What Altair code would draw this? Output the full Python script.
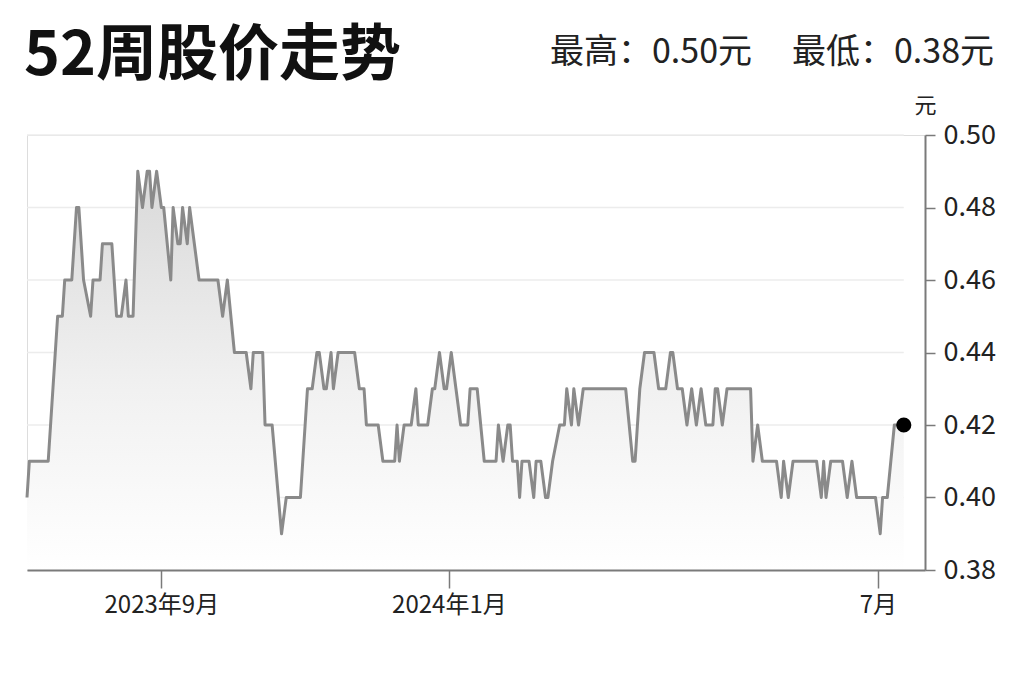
import altair as alt
import pandas as pd

# ---- data ----
dates = [
    "2023-07-06", "2023-07-07", "2023-07-15", "2023-07-19", "2023-07-21", "2023-07-22",
    "2023-07-25", "2023-07-27", "2023-07-28", "2023-07-30", "2023-08-02", "2023-08-03",
    "2023-08-06", "2023-08-07", "2023-08-11", "2023-08-13", "2023-08-15", "2023-08-17",
    "2023-08-18", "2023-08-20", "2023-08-22", "2023-08-24", "2023-08-26", "2023-08-27",
    "2023-08-28", "2023-08-30", "2023-09-01", "2023-09-02", "2023-09-05", "2023-09-06",
    "2023-09-08", "2023-09-09", "2023-09-10", "2023-09-12", "2023-09-13", "2023-09-17",
    "2023-09-25", "2023-09-27", "2023-09-29", "2023-10-02", "2023-10-07", "2023-10-09",
    "2023-10-10", "2023-10-14", "2023-10-15", "2023-10-18", "2023-10-22", "2023-10-24",
    "2023-10-30", "2023-11-02", "2023-11-04", "2023-11-06", "2023-11-07", "2023-11-09",
    "2023-11-10", "2023-11-12", "2023-11-13", "2023-11-15", "2023-11-22", "2023-11-24",
    "2023-11-26", "2023-11-27", "2023-12-02", "2023-12-04", "2023-12-09", "2023-12-10",
    "2023-12-11", "2023-12-13", "2023-12-16", "2023-12-18", "2023-12-19", "2023-12-23",
    "2023-12-25", "2023-12-26", "2023-12-28", "2023-12-30", "2023-12-31", "2024-01-02",
    "2024-01-04", "2024-01-06", "2024-01-09", "2024-01-10", "2024-01-13", "2024-01-16",
    "2024-01-21", "2024-01-22", "2024-01-24", "2024-01-26", "2024-01-27", "2024-01-28",
    "2024-01-30", "2024-01-31", "2024-02-01", "2024-02-04", "2024-02-06", "2024-02-07",
    "2024-02-09", "2024-02-11", "2024-02-12", "2024-02-14", "2024-02-17", "2024-02-19",
    "2024-02-20", "2024-02-22", "2024-02-23", "2024-02-25", "2024-02-27", "2024-03-16",
    "2024-03-19", "2024-03-20", "2024-03-22", "2024-03-24", "2024-03-28", "2024-03-30",
    "2024-04-02", "2024-04-04", "2024-04-05", "2024-04-07", "2024-04-09", "2024-04-11",
    "2024-04-13", "2024-04-15", "2024-04-17", "2024-04-19", "2024-04-22", "2024-04-23",
    "2024-04-24", "2024-04-26", "2024-04-28", "2024-05-08", "2024-05-09", "2024-05-11",
    "2024-05-13", "2024-05-19", "2024-05-21", "2024-05-22", "2024-05-24", "2024-05-26",
    "2024-06-05", "2024-06-07", "2024-06-08", "2024-06-09", "2024-06-11", "2024-06-16",
    "2024-06-18", "2024-06-20", "2024-06-22", "2024-06-30", "2024-07-02", "2024-07-03",
    "2024-07-05", "2024-07-08", "2024-07-12",
]
prices = [
    0.40, 0.41, 0.41, 0.45, 0.45, 0.46,
    0.46, 0.48, 0.48, 0.46, 0.45, 0.46,
    0.46, 0.47, 0.47, 0.45, 0.45, 0.46,
    0.45, 0.45, 0.49, 0.48, 0.49, 0.49,
    0.48, 0.49, 0.48, 0.48, 0.46, 0.48,
    0.47, 0.47, 0.48, 0.47, 0.48, 0.46,
    0.46, 0.45, 0.46, 0.44, 0.44, 0.43,
    0.44, 0.44, 0.42, 0.42, 0.39, 0.40,
    0.40, 0.43, 0.43, 0.44, 0.44, 0.43,
    0.43, 0.44, 0.43, 0.44, 0.44, 0.43,
    0.43, 0.42, 0.42, 0.41, 0.41, 0.42,
    0.41, 0.42, 0.42, 0.43, 0.42, 0.42,
    0.43, 0.43, 0.44, 0.43, 0.43, 0.44,
    0.43, 0.42, 0.42, 0.43, 0.43, 0.41,
    0.41, 0.42, 0.41, 0.42, 0.42, 0.41,
    0.41, 0.40, 0.41, 0.41, 0.40, 0.41,
    0.41, 0.40, 0.40, 0.41, 0.42, 0.42,
    0.43, 0.42, 0.43, 0.42, 0.43, 0.43,
    0.41, 0.41, 0.43, 0.44, 0.44, 0.43,
    0.43, 0.44, 0.44, 0.43, 0.43, 0.42,
    0.43, 0.42, 0.43, 0.42, 0.42, 0.43,
    0.43, 0.42, 0.43, 0.43, 0.41, 0.42,
    0.41, 0.41, 0.40, 0.41, 0.40, 0.41,
    0.41, 0.40, 0.41, 0.40, 0.41, 0.41,
    0.40, 0.41, 0.40, 0.40, 0.39, 0.40,
    0.40, 0.42, 0.42,
]
x_tick_dates = ["2023-09-01", "2024-01-01", "2024-07-01"]
x_tick_labels = ["2023年9月", "2024年1月", "7月"]
y_ticks = [0.38, 0.40, 0.42, 0.44, 0.46, 0.48, 0.50]
x_domain = ["2023-07-06", "2024-07-21"]
grid_end = "2024-07-12"
title_text = "52周股价走势"
high_text = "最高：0.50元"
low_text = "最低：0.38元"
unit_text = "元"

FONT = "Noto Sans CJK SC"


def dt(s):
    t = pd.Timestamp(s)
    return alt.DateTime(year=t.year, month=t.month, date=t.day, utc=True)


def ms(s):
    return int(pd.Timestamp(s, tz="UTC").timestamp() * 1000)


label_expr = "''"
for d, lab in reversed(list(zip(x_tick_dates, x_tick_labels))):
    label_expr = f"time(datum.value) == {ms(d)} ? '{lab}' : ({label_expr})"

df = pd.DataFrame({"date": dates, "price": prices})
df["base"] = y_ticks[0]
last = df.iloc[[-1]]
grid_df = pd.DataFrame({"v": y_ticks[1:], "x0": x_domain[0], "x1": grid_end})

x_scale = alt.Scale(type="utc", domain=[dt(x_domain[0]), dt(x_domain[1])])
y_scale = alt.Scale(domain=[y_ticks[0], y_ticks[-1]], zero=False, nice=False)

x_axis = alt.Axis(
    values=[dt(d) for d in x_tick_dates], labelExpr=label_expr, title=None,
    grid=False, domainColor="#7a7a7a", domainWidth=2, tickColor="#7a7a7a",
    tickWidth=1.5, tickSize=18, labelPadding=5, labelFontSize=24,
    labelColor="#222", labelFont=FONT, zindex=2,
)
y_axis = alt.Axis(
    orient="right", values=y_ticks, format=".2f", title=unit_text, titleAngle=0,
    titleX=0, titleY=-23, titleAlign="center", titleBaseline="alphabetic",
    titleFontSize=22, titleFontWeight="normal", titleColor="#222", titleFont=FONT,
    grid=False, domainColor="#7a7a7a", domainWidth=2, tickColor="#7a7a7a",
    tickWidth=1.5, tickSize=10, labelPadding=8, labelFontSize=27,
    labelColor="#222", labelFont=FONT, zindex=2,
)

grid = alt.Chart(grid_df).mark_rule(color="#ececec", strokeWidth=1.5).encode(
    x=alt.X("x0:T", scale=x_scale, axis=x_axis),
    x2="x1:T",
    y=alt.Y("v:Q", scale=y_scale, axis=y_axis),
)

area = alt.Chart(df).mark_area(
    interpolate="linear",
    color=alt.Gradient(
        gradient="linear",
        stops=[alt.GradientStop(color="#d9d9d9", offset=0),
               alt.GradientStop(color="#f1f1f1", offset=0.55),
               alt.GradientStop(color="#ffffff", offset=1)],
        x1=1, x2=1, y1=0, y2=1,
    ),
).encode(
    x=alt.X("date:T", scale=x_scale),
    y=alt.Y("price:Q", scale=y_scale),
    y2="base:Q",
)

line = alt.Chart(df).mark_line(
    color="#8a8a8a", strokeWidth=3, strokeJoin="round", interpolate="linear"
).encode(x=alt.X("date:T", scale=x_scale), y=alt.Y("price:Q", scale=y_scale))

dot = alt.Chart(last).mark_circle(color="#000000", opacity=1, size=230).encode(
    x=alt.X("date:T", scale=x_scale), y=alt.Y("price:Q", scale=y_scale)
)

title = alt.Chart(pd.DataFrame({"t": [title_text]})).mark_text(
    font=FONT, fontSize=61, fontWeight="bold", color="#111", align="left",
    baseline="alphabetic",
).encode(text="t:N", x=alt.value(-3), y=alt.value(-60))

high = alt.Chart(pd.DataFrame({"t": [high_text]})).mark_text(
    font=FONT, fontSize=34, color="#222", align="left", baseline="alphabetic",
).encode(text="t:N", x=alt.value(523), y=alt.value(-72))

low = alt.Chart(pd.DataFrame({"t": [low_text]})).mark_text(
    font=FONT, fontSize=34, color="#222", align="left", baseline="alphabetic",
).encode(text="t:N", x=alt.value(765), y=alt.value(-72))

chart = alt.layer(grid, area, line, dot, title, high, low).properties(
    width=898, height=435, autosize="none",
    padding={"left": 19, "top": 127, "right": 90, "bottom": 90},
).configure_view(stroke=None).configure(font=FONT, background="white")

chart.save("out.html", embed_options={"renderer": "svg", "actions": False})
